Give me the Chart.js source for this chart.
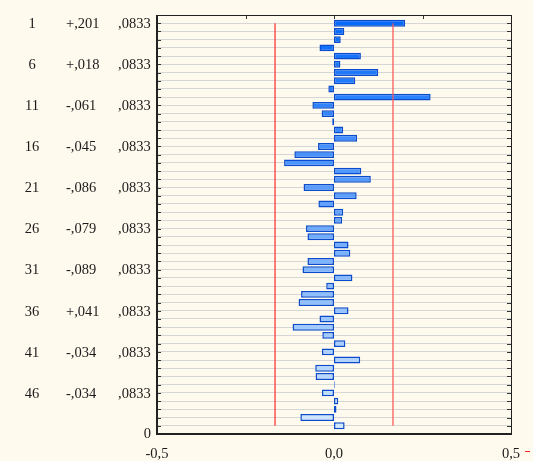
<!DOCTYPE html>
<html>
<head>
<meta charset="utf-8">
<script src="https://cdn.jsdelivr.net/npm/chart.js@4/dist/chart.umd.min.js"></script>
<style>
  html, body { margin: 0; padding: 0; background: #fffaee; }
  #wrap { width: 533px; height: 461px; }
</style>
</head>
<body>
<div id="wrap"><canvas id="acfChart"></canvas></div>
<script>
// autocorrelation by lag
const lags = [1, 2, 3, 4, 5, 6, 7, 8, 9, 10,
  11, 12, 13, 14, 15, 16, 17, 18, 19, 20,
  21, 22, 23, 24, 25, 26, 27, 28, 29, 30,
  31, 32, 33, 34, 35, 36, 37, 38, 39, 40,
  41, 42, 43, 44, 45, 46, 47, 48, 49, 50];
const acf = [0.201, 0.029, 0.019, -0.041, 0.076, 0.018, 0.125, 0.060, -0.016, 0.273,
  -0.061, -0.035, -0.005, 0.026, 0.065, -0.045, -0.112, -0.141, 0.077, 0.104,
  -0.086, 0.064, -0.044, 0.026, 0.023, -0.079, -0.075, 0.041, 0.046, -0.075,
  -0.089, 0.052, -0.022, -0.093, -0.100, 0.041, -0.041, -0.117, -0.033, 0.032,
  -0.034, 0.074, -0.053, -0.052, 0.002, -0.034, 0.012, 0.007, -0.095, 0.030];
const stdErr = 0.0833;
const labelledLags = [1, 6, 11, 16, 21, 26, 31, 36, 41, 46];
const xTicks = [-0.5, 0, 0.5];

const confLimit = 2 * stdErr;
const serif = "'Liberation Serif', 'Times New Roman', serif";

function fmtR(v) {
  return (v < 0 ? '-' : '+') + Math.abs(v).toFixed(3).replace(/^0/, '').replace('.', ',');
}

// bar fill fades from deep blue to pale blue going down the lags
function barFill(ctx) {
  const t = ctx.dataIndex / (lags.length - 1);
  const from = [5, 105, 250], to = [210, 232, 255];
  const c = from.map((f, i) => Math.round(f + (to[i] - f) * t));
  return 'rgb(' + c.join(',') + ')';
}

const sidePlugin = {
  id: 'sideText',
  afterDraw(chart) {
    const { ctx, chartArea, scales } = chart;
    const y = scales.y, x = scales.x;
    ctx.save();
    // lag / r / SE columns
    ctx.font = '14.5px ' + serif;
    ctx.fillStyle = '#1a1a1a';
    ctx.textBaseline = 'middle';
    labelledLags.forEach(lag => {
      const py = y.getPixelForValue(lag) + 1;
      ctx.textAlign = 'center';
      ctx.fillText(String(lag), 32, py);
      ctx.textAlign = 'left';
      ctx.fillText(fmtR(acf[lag - 1]), 66, py);
      ctx.fillText(',' + stdErr.toFixed(4).slice(2), 118, py);
    });
    ctx.textAlign = 'right';
    ctx.fillText('0', chartArea.left - 6, chartArea.bottom);

    // inner tick marks on left/right edges
    ctx.strokeStyle = '#333';
    ctx.lineWidth = 1;
    ctx.beginPath();
    for (let v = 1; v <= 50; v++) {
      const py = Math.round(y.getPixelForValue(v)) + 0.5;
      ctx.moveTo(chartArea.left, py); ctx.lineTo(chartArea.left + 4, py);
      ctx.moveTo(chartArea.right, py); ctx.lineTo(chartArea.right - 4, py);
    }
    [-0.25, 0, 0.25].forEach(v => {
      const px = Math.round(x.getPixelForValue(v)) + 0.5;
      ctx.moveTo(px, chartArea.top); ctx.lineTo(px, chartArea.top + 4);
    });
    ctx.stroke();

    // frame
    ctx.strokeStyle = '#222';
    ctx.lineWidth = 1;
    ctx.strokeRect(chartArea.left + 0.5, chartArea.top + 0.5,
      chartArea.right - chartArea.left, chartArea.bottom - chartArea.top);
    ctx.lineWidth = 2;
    ctx.beginPath();
    ctx.moveTo(chartArea.left, chartArea.top);
    ctx.lineTo(chartArea.left, chartArea.bottom);
    ctx.lineTo(chartArea.right + 1, chartArea.bottom);
    ctx.stroke();

    // red dash after the last x label
    ctx.strokeStyle = '#ff2020';
    ctx.lineWidth = 1;
    ctx.beginPath();
    ctx.moveTo(chartArea.right + 14, chartArea.bottom + 17.5);
    ctx.lineTo(chartArea.right + 19, chartArea.bottom + 17.5);
    ctx.stroke();
    ctx.restore();
  }
};

new Chart(document.getElementById('acfChart'), {
  type: 'bar',
  data: {
    datasets: [
      {
        type: 'line',
        data: [{ x: -confLimit, y: lags[0] }, { x: -confLimit, y: lags[lags.length - 1] }],
        borderColor: '#ff2a2a',
        borderWidth: 1.2,
        pointRadius: 0,
        order: 0
      },
      {
        type: 'line',
        data: [{ x: confLimit, y: lags[0] }, { x: confLimit, y: lags[lags.length - 1] }],
        borderColor: '#ff5050',
        borderWidth: 1.2,
        pointRadius: 0,
        order: 0
      },
      {
        data: lags.map((lag, i) => ({ x: acf[i], y: lag })),
        backgroundColor: barFill,
        borderColor: '#0c4ccc',
        borderWidth: 1.5,
        borderSkipped: false,
        barPercentage: 0.84,
        categoryPercentage: 1,
        order: 1
      }
    ]
  },
  options: {
    indexAxis: 'y',
    responsive: true,
    maintainAspectRatio: false,
    animation: false,
    layout: { padding: { top: 15, right: 22, left: 0, bottom: 0 } },
    plugins: { legend: { display: false }, tooltip: { enabled: false } },
    scales: {
      x: {
        type: 'linear',
        min: -0.5,
        max: 0.5,
        afterBuildTicks: s => { s.ticks = xTicks.map(v => ({ value: v })); },
        afterFit: s => { s.height = 27; },
        grid: { display: false },
        border: { display: false },
        ticks: {
          color: '#1a1a1a',
          font: { family: serif, size: 14.5 },
          padding: 3,
          maxRotation: 0,
          callback: v => (v < 0 ? '-' : '') + Math.abs(v).toFixed(1).replace('.', ',')
        }
      },
      y: {
        type: 'linear',
        reverse: true,
        offset: false,
        min: 0,
        max: 51,
        afterBuildTicks: s => { s.ticks = lags.map(v => ({ value: v })); },
        afterFit: s => { s.width = 157; },
        grid: { color: '#d6d6d6', lineWidth: 1, drawTicks: false, offset: false },
        border: { display: false },
        ticks: { display: false }
      }
    }
  },
  plugins: [sidePlugin]
});
</script>
</body>
</html>
